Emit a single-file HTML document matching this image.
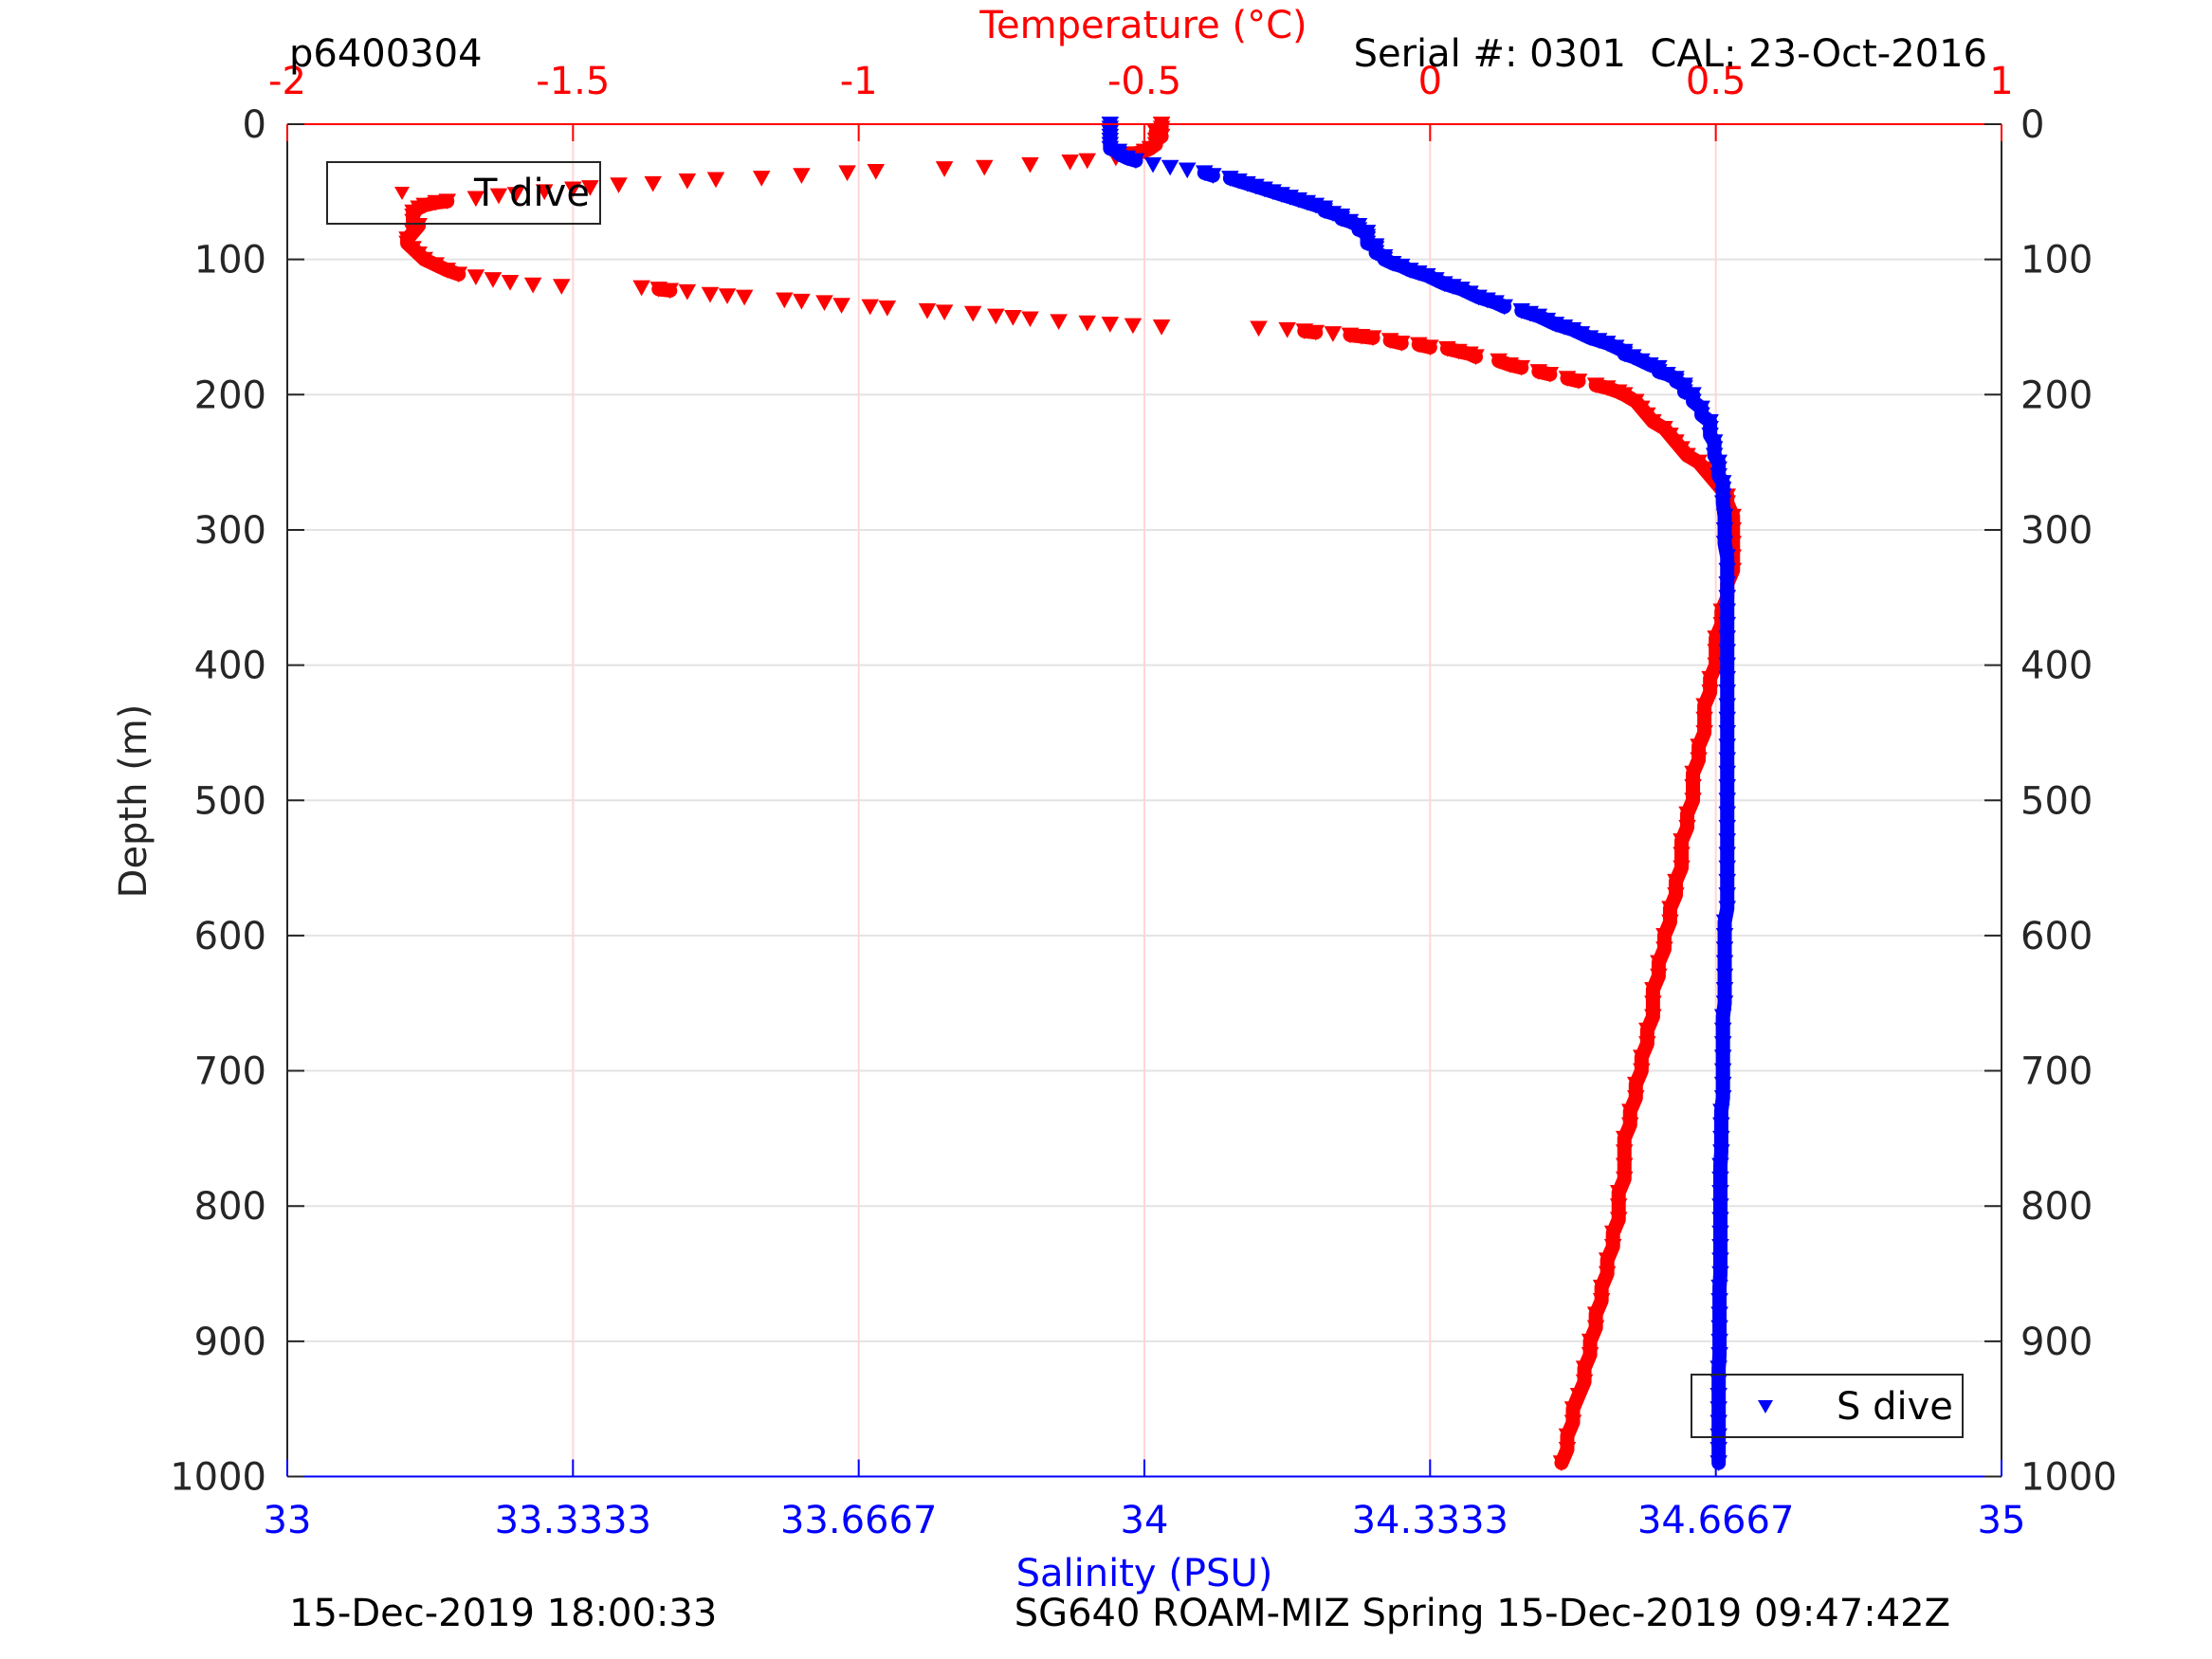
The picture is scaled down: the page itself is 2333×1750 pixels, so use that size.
<!DOCTYPE html>
<html><head><meta charset="utf-8"><style>
html,body{margin:0;padding:0;background:#fff;}
svg{display:block;font-family:"DejaVu Sans","Liberation Sans",sans-serif;}
</style></head><body>
<svg id="chart" width="2333" height="1750" viewBox="0 0 2333 1750" xmlns="http://www.w3.org/2000/svg">
<rect x="0" y="0" width="2333" height="1750" fill="#fff"/>
<g id="grid"></g>
<g id="series"></g>
<g id="axes"></g>
<g id="labels"></g>
</svg>
<script>
const depthTicks=[0,100,200,300,400,500,600,700,800,900,1000];
const tempTicks=[-2,-1.5,-1,-0.5,0,0.5,1];
const tempTickLabels=["-2","-1.5","-1","-0.5","0","0.5","1"];
const salTicks=[33,33.3333,33.6667,34,34.3333,34.6667,35];
const salTickLabels=["33","33.3333","33.6667","34","34.3333","34.6667","35"];
const tempDepth=[0,3,6,9,12,15,18,20,22,25,27,28,30,32,33,35,36,38,40,41,42,44,45,47,48,50,52,53,55,57,58,60,62,65,68,72,75,80,85,88,92,96,100,104,108,111,113,115,117,119,120,121,122,123,124,126,127,128,130,131,132,134,135,136,138,139,140,142,143,144,146,147,148,149,150,151,152,153,154,155,156,157,158,160,162,163,165,166,168,170,172,175,178,180,183,185,188,190,193,195,198,200,205,210,215,220,225,230,235,240,245,250,255,260,265,270,275,280,290,300,310,320,330,340,350,360,370,380,390,400,410,420,430,440,450,460,470,480,490,500,510,520,530,540,550,560,570,580,590,600,610,620,630,640,650,660,670,680,690,700,710,720,730,740,750,760,770,780,790,800,810,820,830,840,850,860,870,880,890,900,910,920,930,940,950,960,970,980,990];
const tempVals=[-0.47,-0.47,-0.48,-0.47,-0.48,-0.48,-0.49,-0.5,-0.52,-0.55,-0.6,-0.63,-0.7,-0.78,-0.85,-0.97,-1.02,-1.1,-1.17,-1.25,-1.3,-1.36,-1.42,-1.47,-1.5,-1.55,-1.6,-1.63,-1.67,-1.72,-1.74,-1.76,-1.77,-1.78,-1.78,-1.78,-1.77,-1.78,-1.79,-1.79,-1.78,-1.77,-1.76,-1.74,-1.72,-1.7,-1.67,-1.64,-1.61,-1.57,-1.52,-1.38,-1.35,-1.33,-1.3,-1.26,-1.23,-1.2,-1.13,-1.1,-1.06,-1.03,-0.98,-0.95,-0.88,-0.85,-0.8,-0.76,-0.73,-0.7,-0.65,-0.6,-0.56,-0.52,-0.47,-0.3,-0.25,-0.22,-0.2,-0.17,-0.14,-0.12,-0.1,-0.07,-0.05,-0.02,0.0,0.03,0.05,0.07,0.08,0.12,0.14,0.16,0.19,0.21,0.24,0.26,0.29,0.31,0.33,0.34,0.36,0.37,0.38,0.39,0.41,0.42,0.43,0.44,0.45,0.47,0.48,0.49,0.5,0.51,0.52,0.52,0.53,0.53,0.53,0.53,0.53,0.52,0.52,0.51,0.51,0.5,0.5,0.5,0.49,0.49,0.48,0.48,0.48,0.47,0.47,0.46,0.46,0.46,0.45,0.45,0.44,0.44,0.44,0.43,0.43,0.42,0.42,0.41,0.41,0.4,0.4,0.39,0.39,0.39,0.38,0.38,0.37,0.37,0.36,0.36,0.35,0.35,0.34,0.34,0.34,0.34,0.33,0.33,0.33,0.32,0.32,0.31,0.31,0.3,0.3,0.29,0.29,0.28,0.28,0.27,0.27,0.26,0.25,0.25,0.24,0.24,0.23,0.22];
const salDepth=[0,3,6,9,12,15,18,20,22,25,27,30,32,34,36,38,40,42,44,46,48,50,52,54,56,58,60,62,64,66,68,70,72,75,78,80,83,85,88,90,92,95,98,100,103,105,108,110,112,115,118,120,122,125,128,130,132,135,138,140,142,145,148,150,152,155,158,160,162,165,168,170,172,175,178,180,183,185,188,190,193,195,198,200,205,210,215,220,225,230,235,240,245,250,255,260,265,270,275,280,290,300,310,320,330,340,350,360,370,380,390,400,410,420,430,440,450,460,470,480,490,500,510,520,530,540,550,560,570,580,590,600,610,620,630,640,650,660,670,680,690,700,710,720,730,740,750,760,770,780,790,800,810,820,830,840,850,860,870,880,890,900,910,920,930,940,950,960,970,980,990];
const salVals=[33.96,33.96,33.96,33.96,33.96,33.96,33.96,33.97,33.97,33.98,33.99,34.01,34.03,34.05,34.07,34.08,34.1,34.11,34.12,34.13,34.14,34.15,34.16,34.17,34.18,34.19,34.2,34.21,34.21,34.22,34.23,34.23,34.24,34.25,34.25,34.26,34.26,34.26,34.26,34.27,34.27,34.27,34.28,34.28,34.29,34.3,34.31,34.32,34.33,34.34,34.35,34.36,34.37,34.38,34.39,34.4,34.41,34.42,34.44,34.45,34.46,34.47,34.48,34.49,34.5,34.51,34.52,34.53,34.54,34.55,34.56,34.56,34.57,34.58,34.59,34.6,34.6,34.61,34.62,34.62,34.63,34.63,34.63,34.64,34.64,34.65,34.65,34.66,34.66,34.66,34.665,34.665,34.665,34.67,34.67,34.67,34.675,34.675,34.675,34.675,34.677,34.677,34.677,34.68,34.68,34.68,34.68,34.68,34.68,34.68,34.68,34.68,34.68,34.68,34.68,34.68,34.68,34.68,34.68,34.68,34.68,34.68,34.68,34.68,34.68,34.68,34.68,34.68,34.68,34.68,34.677,34.677,34.677,34.677,34.677,34.677,34.677,34.675,34.675,34.675,34.675,34.675,34.675,34.675,34.673,34.673,34.673,34.673,34.672,34.672,34.672,34.672,34.672,34.672,34.672,34.672,34.672,34.671,34.671,34.671,34.671,34.671,34.671,34.67,34.67,34.67,34.67,34.67,34.67,34.67,34.67,34.67,34.67];

const NS="http://www.w3.org/2000/svg";
const L=303,R=2111,T=131,B=1557.5;
const yD=d=>T+(d/1000)*(B-T);
const xT=t=>L+((t+2)/3)*(R-L);
const xS=s=>L+((s-33)/2)*(R-L);
function mk(tag,attrs,parent,text){const e=document.createElementNS(NS,tag);for(const k in attrs)e.setAttribute(k,attrs[k]);if(text!==undefined)e.textContent=text;parent.appendChild(e);return e;}
const grid=document.getElementById('grid'),series=document.getElementById('series'),axes=document.getElementById('axes'),labels=document.getElementById('labels');

depthTicks.forEach(d=>{
  if(d>0&&d<1000){const g=mk('line',{x1:L,x2:R,y1:yD(d),y2:yD(d),stroke:'#e3e3e3','stroke-width':2},grid);
  
  }
});
tempTicks.forEach(t=>{
  if(t>-2&&t<1){const g=mk('line',{x1:xT(t),x2:xT(t),y1:T,y2:B,stroke:'#ffd6d6','stroke-width':2},grid);
  
  }
});

function tri(x,y,s){return `M${x-s},${y-s*0.9}L${x+s},${y-s*0.9}L${x},${y+s*0.9}Z`;}
function drawSeries(depths,vals,xf,color,name){
  const g=mk('g',{},series);
  
  
  let d='',ld='';
  depths.forEach((dep,i)=>{
    const x=xf(vals[i]),y=yD(dep);
    d+=tri(x,y,8);
    if(i>0){const px=xf(vals[i-1]),py=yD(depths[i-1]);
      if(Math.hypot(x-px,y-py)<16) ld+=`M${px},${py}L${x},${y}`;}
  });
  const l=mk('path',{d:ld,fill:'none',stroke:color,'stroke-width':15,'stroke-linecap':'round'},g);
  
  
  const p=mk('path',{d:d,fill:color,stroke:color,'stroke-width':1.5},g);
  
  
}
drawSeries(tempDepth,tempVals,xT,'#ff0000','temperature-series');
drawSeries(salDepth,salVals,xS,'#0000ff','salinity-series');

const la=mk('line',{x1:L,x2:L,y1:T,y2:B,stroke:'#262626','stroke-width':2},axes);

const ra=mk('line',{x1:R,x2:R,y1:T,y2:B,stroke:'#262626','stroke-width':2},axes);

const ta=mk('line',{x1:L,x2:R,y1:T,y2:T,stroke:'#ff0000','stroke-width':2},axes);

const ba=mk('line',{x1:L,x2:R,y1:B,y2:B,stroke:'#0000ff','stroke-width':2},axes);


depthTicks.forEach((d,i)=>{
  mk('line',{x1:L,x2:L+18,y1:yD(d),y2:yD(d),stroke:'#262626','stroke-width':2},axes);
  mk('line',{x1:R-18,x2:R,y1:yD(d),y2:yD(d),stroke:'#262626','stroke-width':2},axes);
  const a=mk('text',{x:L-22,y:yD(d)+14,'text-anchor':'end','font-size':40,fill:'#262626'},labels,String(d));
  
  const b=mk('text',{x:R+20,y:yD(d)+14,'text-anchor':'start','font-size':40,fill:'#262626'},labels,String(d));
  
});
tempTicks.forEach((t,i)=>{
  mk('line',{x1:xT(t),x2:xT(t),y1:T,y2:T+18,stroke:'#ff0000','stroke-width':2},axes);
  const a=mk('text',{x:xT(t),y:99,'text-anchor':'middle','font-size':40,fill:'#ff0000'},labels,tempTickLabels[i]);
  
});
salTicks.forEach((s,i)=>{
  mk('line',{x1:xS(s),x2:xS(s),y1:B-18,y2:B,stroke:'#0000ff','stroke-width':2},axes);
  const a=mk('text',{x:xS(s),y:1617,'text-anchor':'middle','font-size':40,fill:'#0000ff'},labels,salTickLabels[i]);
  
});
</script>
<svg style="position:absolute;left:0;top:0" width="2333" height="1750" viewBox="0 0 2333 1750" xmlns="http://www.w3.org/2000/svg" font-family="DejaVu Sans, Liberation Sans, sans-serif">
<text x="1206" y="40" text-anchor="middle" font-size="40" fill="#ff0000">Temperature (°C)</text>
<text x="305" y="70" font-size="40" fill="#000">p6400304</text>
<text x="2096" y="70" text-anchor="end" font-size="40" fill="#000" xml:space="preserve">Serial #: 0301  CAL: 23-Oct-2016</text>
<text x="1207" y="1673" text-anchor="middle" font-size="40" fill="#0000ff">Salinity (PSU)</text>
<text x="305" y="1715" font-size="40" fill="#000">15-Dec-2019 18:00:33</text>
<text x="2057" y="1715" text-anchor="end" font-size="40" fill="#000">SG640 ROAM-MIZ Spring 15-Dec-2019 09:47:42Z</text>
<text x="0" y="0" transform="translate(154,845) rotate(-90)" text-anchor="middle" font-size="40" fill="#262626">Depth (m)</text>
<g>
<rect x="345" y="171" width="288" height="65" fill="none" stroke="#262626" stroke-width="2"/>
<path d="M416,197L432,197L424,211Z" fill="#ff0000"/>
<text x="500" y="217" font-size="40" fill="#000">T dive</text>
</g>
<g>
<rect x="1784" y="1450" width="286" height="66" fill="none" stroke="#262626" stroke-width="2"/>
<path d="M1854,1477L1870,1477L1862,1491Z" fill="#0000ff"/>
<text x="1937" y="1497" font-size="40" fill="#000">S dive</text>
</g>
</svg>
</body></html>
